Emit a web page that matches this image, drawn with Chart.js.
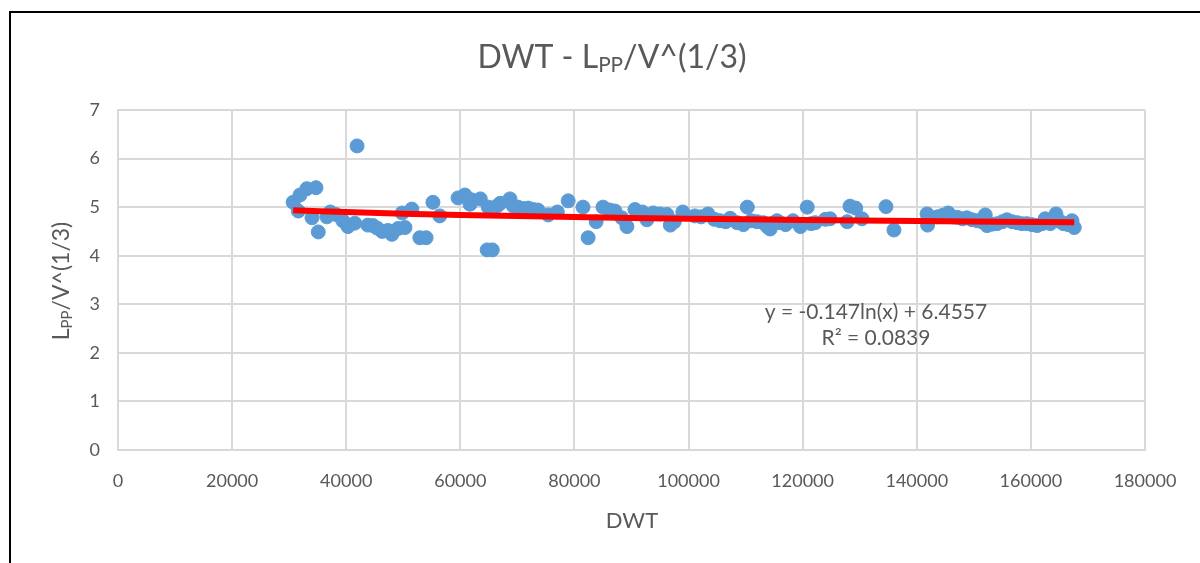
<!DOCTYPE html>
<html>
<head>
<meta charset="utf-8">
<title>DWT - Lpp/V^(1/3)</title>
<script src="https://cdn.jsdelivr.net/npm/chart.js@4.4.1/dist/chart.umd.min.js"></script>
<style>
  html, body { margin: 0; padding: 0; background: #fff; overflow: hidden; }
  #frame {
    position: absolute; left: 9px; top: 11px; width: 1300px; height: 700px;
    border-left: 2px solid #000; border-top: 2px solid #000;
  }
  #wrap { position: absolute; left: 0; top: 0; width: 1200px; height: 563px; }
</style>
</head>
<body>
<div id="frame"></div>
<div id="wrap"><canvas id="myChart" width="1200" height="563"></canvas></div>
<script>
// ship deadweight vs slenderness ratio Lpp / V^(1/3)
const dwt = [
  30700, 31600, 31900, 33100, 34700, 34000, 35100, 36600, 37200, 38200,
  39400, 40300, 41500, 41900, 43800, 44700, 45400, 46300, 47300, 48000,
  49100, 49800, 50300, 51500, 52900, 54000, 55200, 56400,
  59600, 60800, 61700, 62000, 63500, 64700, 65600, 64900, 66400, 67000,
  68700, 69300, 70100, 71000, 71900, 72800, 73600, 75400, 77000, 78900,
  81500, 82400, 83800, 85000, 86200, 87100, 88300, 89200, 90600, 91900,
  92700, 93800, 95000, 96200, 96800, 97500, 99000, 101100,
  102200, 103400, 104500, 105500, 106500, 107300, 108500, 109600, 110300, 111000,
  112000, 113100, 113800, 114300, 114800, 115500, 116000, 117000, 118300, 119600,
  120800, 121500, 122200, 124000, 124800, 127800, 128300, 129300, 130400, 134600,
  136000,
  141800, 141900, 143600, 144500, 145500, 146300, 147100, 148000, 148800, 149700,
  150600, 151400, 152000, 152300, 153200, 154100, 155000, 155800, 156700, 157600,
  158400, 159300, 160200, 161100, 162000, 162500, 163400, 164400, 165200, 165700,
  166500, 167200, 167600
];
const lppRatio = [
  5.10, 4.92, 5.25, 5.38, 5.40, 4.78, 4.49, 4.80, 4.90, 4.85,
  4.72, 4.60, 4.67, 6.26, 4.63, 4.62, 4.57, 4.50, 4.52, 4.44,
  4.56, 4.88, 4.58, 4.96, 4.37, 4.37, 5.10, 4.82,
  5.19, 5.25, 5.06, 5.15, 5.17, 4.12, 4.12, 5.00, 5.02, 5.08,
  5.17, 5.02, 5.00, 4.97, 4.98, 4.95, 4.94, 4.84, 4.90, 5.13,
  5.00, 4.37, 4.70, 5.00, 4.94, 4.92, 4.78, 4.60, 4.95, 4.90,
  4.74, 4.88, 4.86, 4.85, 4.63, 4.70, 4.90, 4.82,
  4.80, 4.86, 4.75, 4.72, 4.70, 4.77, 4.68, 4.64, 5.00, 4.72,
  4.70, 4.68, 4.60, 4.55, 4.67, 4.72, 4.68, 4.64, 4.72, 4.60,
  5.00, 4.66, 4.68, 4.75, 4.76, 4.70, 5.02, 4.98, 4.76, 5.01,
  4.53,
  4.86, 4.63, 4.80, 4.83, 4.88, 4.80, 4.79, 4.76, 4.78, 4.74,
  4.72, 4.70, 4.84, 4.62, 4.65, 4.66, 4.70, 4.74, 4.70, 4.68,
  4.66, 4.66, 4.64, 4.62, 4.66, 4.76, 4.66, 4.86, 4.70, 4.66,
  4.64, 4.72, 4.58
];

// log trendline as given by the fit: y = a ln(x) + b
const trendA = -0.147;
const trendB = 6.4557;
const trendR2 = 0.0839;
const trendX = [30700, 40000, 60000, 80000, 100000, 120000, 140000, 167600];

const xTicks = [0, 20000, 40000, 60000, 80000, 100000, 120000, 140000, 160000, 180000];
const yTicks = [0, 1, 2, 3, 4, 5, 6, 7];

const FONT = "Lato, 'Open Sans', sans-serif";
const TXT = '#595959';
const GRID = '#d9d9d9';

const points = dwt.map((x, i) => ({ x: x, y: lppRatio[i] }));
const trend = trendX.map(x => ({ x: x, y: trendA * Math.log(x) + trendB }));

// text with a "PP" subscript, drawn in pieces
function drawSubText(ctx, parts, size, cx, cy) {
  let w = 0;
  parts.forEach(p => {
    ctx.font = (p.sub ? size * 0.65 : size) + 'px ' + FONT;
    p.w = ctx.measureText(p.t).width;
    w += p.w;
  });
  let x = cx - w / 2;
  parts.forEach(p => {
    ctx.font = (p.sub ? size * 0.65 : size) + 'px ' + FONT;
    ctx.fillText(p.t, x, p.sub ? cy + size * 0.22 : cy);
    x += p.w;
  });
}

const labels = {
  id: 'labels',
  afterDraw(chart) {
    const ctx = chart.ctx;
    ctx.save();
    ctx.fillStyle = TXT;
    ctx.textAlign = 'left';
    ctx.textBaseline = 'middle';
    drawSubText(ctx, [{ t: 'DWT - L' }, { t: 'PP', sub: true }, { t: '/V^(1/3)' }], 32, 612, 58);

    ctx.save();
    ctx.translate(62, 281);
    ctx.rotate(-Math.PI / 2);
    drawSubText(ctx, [{ t: 'L' }, { t: 'PP', sub: true }, { t: '/V^(1/3)' }], 23, 0, 0);
    ctx.restore();

    ctx.textAlign = 'center';
    ctx.font = '22px ' + FONT;
    ctx.fillText('DWT', 632, 521);

    ctx.font = '21px ' + FONT;
    ctx.fillText('y = ' + trendA + 'ln(x) + ' + trendB, 876, 312);
    ctx.fillText('R\u00B2 = ' + trendR2, 876, 338);
    ctx.restore();
  }
};

const ctx = document.getElementById('myChart').getContext('2d');
const chart = new Chart(ctx, {
  type: 'scatter',
  data: {
    datasets: [
      {
        label: 'trend',
        type: 'line',
        data: trend,
        borderColor: '#ff0000',
        borderWidth: 6,
        pointRadius: 0,
        tension: 0.4,
        fill: false,
        order: 0
      },
      {
        label: 'Lpp/V^(1/3)',
        data: points,
        backgroundColor: '#5b9bd5',
        borderColor: '#5b9bd5',
        pointRadius: 7,
        pointHoverRadius: 7,
        order: 1
      }
    ]
  },
  options: {
    responsive: false,
    animation: false,
    events: [],
    layout: { padding: { left: 0, right: 55, top: 110, bottom: 0 } },
    plugins: { legend: { display: false }, tooltip: { enabled: false } },
    scales: {
      x: {
        type: 'linear',
        min: 0,
        max: 180000,
        afterBuildTicks: axis => { axis.ticks = xTicks.map(v => ({ value: v })); },
        afterFit: axis => { axis.height = 113; },
        grid: { color: GRID, lineWidth: 2, drawTicks: false },
        border: { color: GRID, width: 2 },
        ticks: {
          color: TXT, font: { family: FONT, size: 18 }, padding: 20, maxRotation: 0,
          callback: v => String(v)
        }
      },
      y: {
        min: 0,
        max: 7,
        afterBuildTicks: axis => { axis.ticks = yTicks.map(v => ({ value: v })); },
        afterFit: axis => { axis.width = 118; },
        grid: { color: GRID, lineWidth: 2, drawTicks: false },
        border: { color: GRID, width: 2 },
        ticks: { color: TXT, font: { family: FONT, size: 18 }, padding: 18 }
      }
    }
  },
  plugins: [labels]
});
</script>
</body>
</html>
